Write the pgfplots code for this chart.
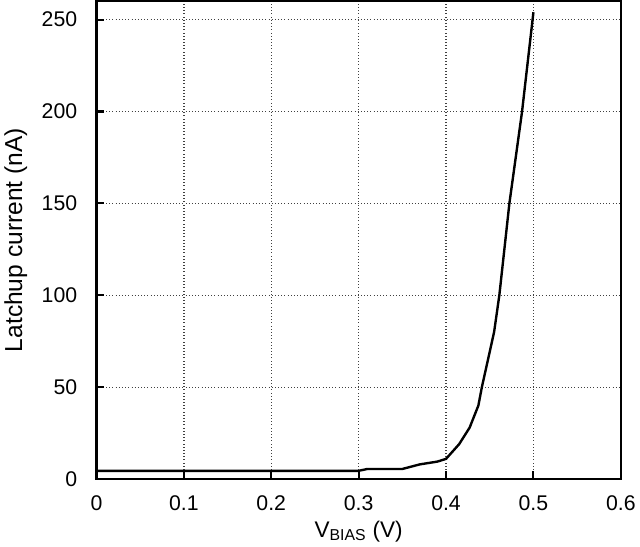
\documentclass[border=0pt]{standalone}
\usepackage{fontspec}
\setmainfont{Liberation Sans}
\usepackage{pgfplots}
\pgfplotsset{compat=1.18}
\begin{document}
\begin{tikzpicture}
\begin{axis}[
  scale only axis,
  width=395pt, height=360pt,
  xmin=0, xmax=0.6, ymin=0, ymax=260,
  xtick={0,0.1,0.2,0.3,0.4,0.5,0.6},
  xticklabels={0,0.1,0.2,0.3,0.4,0.5,0.6},
  ytick={0,50,100,150,200,250},
  /pgf/number format/assume math mode=true,
  tick label style={font=\fontsize{16}{18}\selectfont},
  xlabel style={font=\fontsize{17}{19}\selectfont, yshift=-1pt},
  ylabel style={font=\fontsize{18.5}{20}\selectfont, yshift=4pt},
  yticklabel style={xshift=-11pt},
  xticklabel style={yshift=-9pt},
  xlabel={V\textsubscript{BIAS} (V)},
  ylabel={Latchup current (nA)},
  tick align=inside,
  xtick pos=bottom, ytick pos=left,
  major tick length=6pt,
  every tick/.style={black, line width=1.6pt},
  axis line style={line width=1.8pt},
  grid=major,
  major grid style={dotted, line width=1pt, black!75},
]
\addplot[black, line width=1.8pt, line join=round] coordinates {
(0,4.5) (0.30,4.5) (0.31,5.5) (0.35,5.5) (0.37,8) (0.39,9.5) (0.40,11)
(0.415,19) (0.427,28) (0.437,40) (0.441,50) (0.448,65) (0.455,80)
(0.461,100) (0.4725,150) (0.487,200) (0.5,254)
};
\end{axis}
\end{tikzpicture}
\end{document}
